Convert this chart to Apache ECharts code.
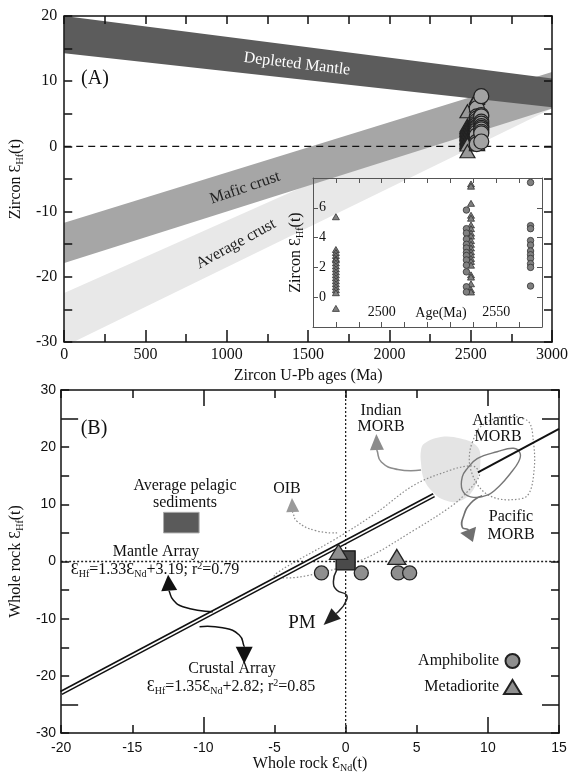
<!DOCTYPE html>
<html>
<head>
<meta charset="utf-8">
<script src="https://cdn.jsdelivr.net/npm/echarts@6/dist/echarts.min.js"></script>
<style>
html, body { margin: 0; padding: 0; background: #fff; }
#chart { width: 571px; height: 774px; }
</style>
</head>
<body>
<div id="chart"></div>
<script>
var SERIF = 'Liberation Serif'
var SANS = 'Liberation Sans'

// ---- panel A : zircon eHf(t) vs U-Pb age ----
// ages of the four zircon groups (Ma)
var triAgeA = 2480
var triAgeB = 2539
var circAgeA = 2537
var circAgeB = 2565
// eHf(t) values of each group
var triHfA = [5.4, 3.2, 3.0, 2.8, 2.6, 2.5, 2.3, 2.1, 1.9, 1.7, 1.5, 1.3, 1.1, 0.9, 0.7, 0.5, 0.3, -0.75]
var triHfB = [7.6, 7.45, 6.3, 5.5, 5.3, 4.85, 4.6, 4.3, 4.1, 3.8, 3.55, 3.3, 3.05, 2.85, 2.6, 2.4, 2.15, 1.5, 1.35, 0.9, 0.5, 0.35]
var circHfA = [5.85, 4.6, 4.3, 3.9, 3.55, 3.3, 3.0, 2.8, 2.5, 2.15, 1.7, 0.7, 0.35]
var circHfB = [7.7, 4.8, 4.6, 3.8, 3.5, 3.1, 2.85, 2.6, 2.25, 2.0, 0.75]

// evolution bands [age, eHf]
var depletedMantle = [[0, 20], [3000, 10.4], [3000, 6.0], [0, 14.3]]
var maficCrust = [[0, -11.7], [3000, 11.4], [3000, 5.8], [0, -17.9]]
var averageCrust = [[0, -22.5], [3000, 10.8], [3000, 5.8], [57, -30], [0, -30]]
var chur = [[0, 0], [3000, 0]]

// ---- panel B : whole rock eHf(t) vs eNd(t) ----
var amphNd = [-1.7, 1.1, 3.7, 4.5]
var amphHf = [-2, -2, -2, -2]
var metaNd = [-0.5, 3.6]
var metaHf = [1.7, 0.8]
var pmNd = [0]
var pmHf = [0.2]

var zeroNd = [[0, -30], [0, 30]]
var zeroHf = [[-20, 0], [15, 0]]
var arrayLine = [[-20, -23.0], [6.2, 11.6]]
var arrayLineUpper = [[9.3, 15.6], [15, 23.2]]
var pelagicBox = [[-12.8, 5.0], [-10.3, 8.6]]

var indianField = [[5.53, 20.66], [6.69, 21.8], [8.09, 21.5], [9.25, 20.1], [9.48, 17.7], [9.25, 14.25], [8.79, 11.9],
  [7.86, 10.46], [6.93, 10.75], [6.23, 11.9], [5.53, 14.25], [5.3, 17.2], [5.3, 19.5]]
var pacificField = [[8.56, 16.3], [9.25, 18.0], [10.65, 19.2], [11.8, 19.8], [12.27, 18.9], [12.16, 17.45], [11.58, 15.4],
  [10.88, 13.4], [9.95, 11.6], [8.79, 11.3], [8.2, 12.5], [8.2, 14.8]]
var atlanticField = [[8.9, 20.8], [9.5, 23.6], [11.0, 25.3], [12.8, 24.6], [13.2, 21.0], [13.25, 16.0], [12.8, 11.6],
  [11.6, 10.8], [10.3, 11.3], [9.4, 13.0], [8.8, 16.0], [8.7, 18.5]]
var oibField = [[-5.0, -2.6], [-4.34, -1.2], [-0.63, 4.06], [2.2, 8.6], [4.83, 13.4], [7.39, 16.0], [8.56, 16.7],
  [9.13, 16.5], [9.4, 15.0], [8.4, 11.8], [7.39, 9.6], [4.83, 5.5], [1.12, 0.26], [-3.07, -2.65]]

var indianArrow = { tail: [[5.3, 16.0], [3.67, 16.1], [2.51, 17.4], [2.2, 19.5]], tip: [2.16, 22.3] }
var pacificArrow = { tail: [[9.6, 11.5], [8.79, 10.2], [8.27, 7.8], [8.2, 6.0], [8.6, 5.6]], tip: [8.95, 3.4] }
var oibArrow = { tail: [[-0.6, 5.0], [-2.1, 5.4], [-3.4, 7.0], [-3.72, 8.6]], tip: [-3.77, 11.1] }
var mantleArrow = { tail: [[-9.34, -8.8], [-11.44, -7.9], [-12.13, -6.7], [-12.4, -5.2]], tip: [-12.48, -2.3] }
var crustalArrow = { tail: [[-10.27, -11.4], [-8.65, -11.6], [-7.48, -12.85], [-7.13, -14.9]], tip: [-7.13, -17.9] }
var pmArrow = { tail: [[-0.63, -1.5], [-0.86, -3.5], [-0.63, -5.0], [0.07, -5.9], [-0.05, -7.3], [-0.45, -8.6]], tip: [-1.55, -11.1] }

function pairs(xs, ys) {
  return xs.map(function (x, i) { return [x, ys[i]] })
}
function atAge(age, arr) {
  return arr.map(function (v) { return [age, v] })
}

// filled / outlined field drawn through the axis scales
function field(pts, xi, style, z, smooth) {
  return {
    type: 'custom', xAxisIndex: xi, yAxisIndex: xi, silent: true, z: z, clip: true,
    data: [pts[0]],
    renderItem: function (params, api) {
      return {
        type: 'polygon',
        shape: { points: pts.map(function (p) { return api.coord(p) }), smooth: smooth || 0 },
        style: style
      }
    }
  }
}

// curved arrow: tail polyline + filled head
function arrow(a, o) {
  return {
    type: 'custom', xAxisIndex: 4, yAxisIndex: 4, silent: true, z: 5,
    data: [a.tail[0]],
    renderItem: function (params, api) {
      var p = a.tail.map(function (d) { return api.coord(d) })
      var t = api.coord(a.tip)
      var last = p[p.length - 1]
      var dx = t[0] - last[0], dy = t[1] - last[1]
      var len = Math.sqrt(dx * dx + dy * dy)
      var ux = dx / len, uy = dy / len
      var bx = t[0] - ux * o.headLen, by = t[1] - uy * o.headLen
      var hw = o.headWidth / 2
      if (len > o.headLen) p.push([bx, by])
      return {
        type: 'group',
        children: [
          { type: 'polyline', shape: { points: p, smooth: 0.5 },
            style: { stroke: o.color, lineWidth: o.width, fill: null, lineDash: o.dash || null } },
          { type: 'polygon', shape: { points: [t, [bx - uy * hw, by + ux * hw], [bx + uy * hw, by - ux * hw]] },
            style: { fill: o.headColor || o.color } }
        ]
      }
    }
  }
}

var frame = { show: true, onZero: false, lineStyle: { color: '#111', width: 1.5 } }
var insetFrame = { show: true, onZero: false, lineStyle: { color: '#555', width: 1 } }
var noLine = { show: false, onZero: false }
var tk = function (len, color, w) {
  return { show: true, inside: true, length: len, lineStyle: { color: color || '#111', width: w || 1.5 } }
}
var longTk = function (len, vals) {
  return { show: true, inside: true, length: len, customValues: vals, lineStyle: { color: '#111', width: 1.5 } }
}
var noLabel = { show: false }
var noSplit = { show: false }
var plain = function (v) { return String(v) }

var hfRich = function (size) {
  return {
    t: { fontFamily: SERIF, fontSize: size, color: '#111', lineHeight: size + 2 },
    e: { fontFamily: SERIF, fontSize: size, color: '#111', lineHeight: size + 2 },
    s: { fontFamily: SERIF, fontSize: size - 6, color: '#111', lineHeight: size - 4, verticalAlign: 'bottom' }
  }
}

var everyTen = function (v) { return v % 10 === 0 ? String(v) : '' }

var option = {
  animation: false,
  backgroundColor: '#fff',
  grid: [
    { left: 57, top: 16, width: 502, height: 326 },
    { left: 313, top: 178, width: 229, height: 149 },
    { left: 57, top: 390, width: 502, height: 343 }
  ],
  legend: {
    data: ['Amphibolite', 'Metadiorite'],
    orient: 'vertical', align: 'right', right: 44, top: 648,
    itemWidth: 17, itemHeight: 14, itemGap: 10, selectedMode: false,
    textStyle: { fontFamily: SERIF, fontSize: 16, color: '#111' }
  },
  xAxis: [
    { gridIndex: 0, type: 'value', min: 0, max: 3000, interval: 500, position: 'bottom', z: 10,
      axisLine: frame, axisTick: tk(12), minorTick: { show: true, splitNumber: 2, length: 8, lineStyle: { color: '#111', width: 1.5 } },
      splitLine: noSplit, minorSplitLine: noSplit,
      axisLabel: { fontFamily: SERIF, fontSize: 16, color: '#111', margin: 5, formatter: plain },
      name: 'Zircon U-Pb ages (Ma)', nameLocation: 'middle', nameGap: 26,
      nameTextStyle: { fontFamily: SERIF, fontSize: 16, color: '#111' } },
    { gridIndex: 0, type: 'value', min: 0, max: 3000, interval: 250, position: 'top', z: 10,
      axisLine: frame, axisTick: tk(8), axisLabel: noLabel, splitLine: noSplit },
    { gridIndex: 1, type: 'value', min: 2470, max: 2570, interval: 10, position: 'bottom', z: 10,
      axisLine: insetFrame, axisTick: tk(5, '#555', 1), splitLine: noSplit,
      axisLabel: { inside: true, margin: 8, fontFamily: SERIF, fontSize: 14, color: '#111',
        formatter: function (v) { return (v === 2500 || v === 2550) ? String(v) : '' } } },
    { gridIndex: 1, type: 'value', min: 2470, max: 2570, interval: 10, position: 'top', z: 10,
      axisLine: insetFrame, axisTick: tk(5, '#555', 1), axisLabel: noLabel, splitLine: noSplit },
    { gridIndex: 2, type: 'value', min: -20, max: 15, interval: 5, position: 'bottom', z: 10,
      axisLine: frame, axisTick: tk(8), splitLine: noSplit,
      axisLabel: { fontFamily: SANS, fontSize: 14, color: '#111', margin: 8, formatter: plain },
      name: '{t|Whole rock }{e|Ɛ}{s|Nd}{t|(t)}', nameLocation: 'middle', nameGap: 20,
      nameTextStyle: { rich: hfRich(16) } },
    { gridIndex: 2, type: 'value', min: -20, max: 15, interval: 5, position: 'top', z: 10,
      axisLine: frame, axisTick: tk(8), axisLabel: noLabel, splitLine: noSplit },
    { gridIndex: 2, type: 'value', min: -20, max: 15, position: 'bottom', z: 10,
      axisLine: noLine, axisTick: longTk(16, [-10, 10]), axisLabel: noLabel, splitLine: noSplit },
    { gridIndex: 2, type: 'value', min: -20, max: 15, position: 'top', z: 10,
      axisLine: noLine, axisTick: longTk(16, [-10, 10]), axisLabel: noLabel, splitLine: noSplit }
  ],
  yAxis: [
    { gridIndex: 0, type: 'value', min: -30, max: 20, interval: 5, position: 'left', z: 10,
      axisLine: frame, axisTick: tk(8), splitLine: noSplit,
      axisLabel: { fontFamily: SERIF, fontSize: 16, color: '#111', margin: 7, formatter: everyTen },
      name: '{t|Zircon }{e|Ɛ}{s|Hf}{t|(t)}', nameLocation: 'middle', nameGap: 30, nameRotate: 90,
      nameTextStyle: { rich: hfRich(16) } },
    { gridIndex: 0, type: 'value', min: -30, max: 20, interval: 5, position: 'right', z: 10,
      axisLine: frame, axisTick: tk(8), axisLabel: noLabel, splitLine: noSplit },
    { gridIndex: 1, type: 'value', min: -2, max: 8, interval: 2, position: 'left', z: 10,
      axisLine: insetFrame, axisTick: tk(5, '#555', 1), splitLine: noSplit,
      axisLabel: { inside: true, margin: 6, fontFamily: SERIF, fontSize: 14, color: '#111',
        formatter: function (v) { return (v >= 0 && v <= 6) ? String(v) : '' } },
      name: '{t|Zircon }{e|Ɛ}{s|Hf}{t|(t)}', nameLocation: 'middle', nameGap: 8, nameRotate: 90,
      nameTextStyle: { rich: hfRich(16) } },
    { gridIndex: 1, type: 'value', min: -2, max: 8, interval: 2, position: 'right', z: 10,
      axisLine: insetFrame, axisTick: tk(5, '#555', 1), axisLabel: noLabel, splitLine: noSplit },
    { gridIndex: 2, type: 'value', min: -30, max: 30, interval: 5, position: 'left', z: 10,
      axisLine: frame, axisTick: tk(8), splitLine: noSplit,
      axisLabel: { fontFamily: SANS, fontSize: 14, color: '#111', margin: 5, formatter: everyTen },
      name: '{t|Whole rock }{e|Ɛ}{s|Hf}{t|(t)}', nameLocation: 'middle', nameGap: 34, nameRotate: 90,
      nameTextStyle: { rich: hfRich(16) } },
    { gridIndex: 2, type: 'value', min: -30, max: 30, interval: 5, position: 'right', z: 10,
      axisLine: frame, axisTick: tk(8), axisLabel: noLabel, splitLine: noSplit },
    { gridIndex: 2, type: 'value', min: -30, max: 30, position: 'left', z: 10,
      axisLine: noLine, axisTick: longTk(17, [-25, 25]), axisLabel: noLabel, splitLine: noSplit },
    { gridIndex: 2, type: 'value', min: -30, max: 30, position: 'right', z: 10,
      axisLine: noLine, axisTick: longTk(17, [-25, 25]), axisLabel: noLabel, splitLine: noSplit }
  ],
  series: [
    // panel A bands
    field(averageCrust, 0, { fill: '#e8e8e8' }, 1),
    field(maficCrust, 0, { fill: '#a6a6a6' }, 1),
    field(depletedMantle, 0, { fill: '#5c5c5c' }, 1),
    { type: 'line', xAxisIndex: 0, yAxisIndex: 0, data: chur, symbol: 'none', silent: true, z: 3,
      lineStyle: { color: '#111', width: 1.4, type: [7, 5] } },
    { name: 'zircon-tri', type: 'scatter', xAxisIndex: 0, yAxisIndex: 0, symbol: 'triangle', symbolSize: [15, 13], z: 6,
      data: atAge(triAgeA, triHfA).concat(atAge(triAgeB, triHfB)),
      itemStyle: { color: '#999', borderColor: '#222', borderWidth: 1.2, opacity: 1 } },
    { name: 'zircon-circ', type: 'scatter', xAxisIndex: 0, yAxisIndex: 0, symbol: 'circle', symbolSize: 15, z: 6,
      data: atAge(circAgeA, circHfA).concat(atAge(circAgeB, circHfB)),
      itemStyle: { color: '#a3a3a3', borderColor: '#222', borderWidth: 1.2, opacity: 1 } },
    // inset
    { name: 'inset-tri', type: 'scatter', xAxisIndex: 2, yAxisIndex: 2, symbol: 'triangle', symbolSize: [7, 6], z: 6,
      data: atAge(triAgeA, triHfA).concat(atAge(triAgeB, triHfB)),
      itemStyle: { color: '#808080', borderColor: '#333', borderWidth: 0.8, opacity: 1 } },
    { name: 'inset-circ', type: 'scatter', xAxisIndex: 2, yAxisIndex: 2, symbol: 'circle', symbolSize: 6.5, z: 6,
      data: atAge(circAgeA, circHfA).concat(atAge(circAgeB, circHfB)),
      itemStyle: { color: '#808080', borderColor: '#333', borderWidth: 0.8, opacity: 1 } },
    // panel B fields
    field(indianField, 4, { fill: '#e4e4e4' }, 1, 0.4),
    field(oibField, 4, { fill: null, stroke: '#8a8a8a', lineWidth: 1.2, lineDash: [1.5, 2] }, 2, 0.35),
    field(atlanticField, 4, { fill: null, stroke: '#8a8a8a', lineWidth: 1.2, lineDash: [1.5, 2] }, 2, 0.35),
    field(pacificField, 4, { fill: null, stroke: '#777', lineWidth: 1.4 }, 2, 0.4),
    { type: 'line', xAxisIndex: 4, yAxisIndex: 4, data: zeroNd, symbol: 'none', silent: true, z: 3,
      lineStyle: { color: '#222', width: 1.3, type: [2, 2] } },
    { type: 'line', xAxisIndex: 4, yAxisIndex: 4, data: zeroHf, symbol: 'none', silent: true, z: 3,
      lineStyle: { color: '#222', width: 1.3, type: [2, 2] } },
    { type: 'line', xAxisIndex: 4, yAxisIndex: 4, data: arrayLine, symbol: 'none', silent: true, z: 3,
      lineStyle: { color: '#111', width: 4.8 } },
    { type: 'line', xAxisIndex: 4, yAxisIndex: 4, data: arrayLine, symbol: 'none', silent: true, z: 3,
      lineStyle: { color: '#fff', width: 1.6 } },
    { type: 'line', xAxisIndex: 4, yAxisIndex: 4, data: arrayLineUpper, symbol: 'none', silent: true, z: 3,
      lineStyle: { color: '#111', width: 2 } },
    field([pelagicBox[0], [pelagicBox[1][0], pelagicBox[0][1]], pelagicBox[1], [pelagicBox[0][0], pelagicBox[1][1]]], 4,
      { fill: '#5a5a5a', stroke: '#aaa', lineWidth: 1 }, 3),
    arrow(indianArrow, { color: '#8c8c8c', width: 1.6, headLen: 16, headWidth: 14 }),
    arrow(pacificArrow, { color: '#6f6f6f', width: 1.6, headLen: 13, headWidth: 17 }),
    arrow(oibArrow, { color: '#8c8c8c', headColor: '#9a9a9a', width: 1.3, dash: [1.5, 2], headLen: 14, headWidth: 13 }),
    arrow(mantleArrow, { color: '#111', width: 1.5, headLen: 16, headWidth: 16 }),
    arrow(crustalArrow, { color: '#111', width: 1.5, headLen: 17, headWidth: 17 }),
    arrow(pmArrow, { color: '#222', width: 1.5, headLen: 17, headWidth: 14 }),
    { name: 'PM', type: 'scatter', xAxisIndex: 4, yAxisIndex: 4, symbol: 'rect', symbolSize: 19, z: 6,
      data: pairs(pmNd, pmHf), itemStyle: { color: '#4a4a4a', borderColor: '#111', borderWidth: 1.3, opacity: 1 } },
    { name: 'Amphibolite', type: 'scatter', xAxisIndex: 4, yAxisIndex: 4, symbol: 'circle', symbolSize: 14, z: 7,
      data: pairs(amphNd, amphHf), itemStyle: { color: '#8f8f8f', borderColor: '#222', borderWidth: 1.3, opacity: 1 } },
    { name: 'Metadiorite', type: 'scatter', xAxisIndex: 4, yAxisIndex: 4, symbol: 'triangle', symbolSize: [18, 15], z: 7,
      data: pairs(metaNd, metaHf), itemStyle: { color: '#8f8f8f', borderColor: '#222', borderWidth: 1.3, opacity: 1 } }
  ],
  graphic: []
}

function label(text, x, y, size, extra) {
  var el = {
    type: 'text', x: x, y: y, z: 20, silent: true,
    style: { text: text, font: size + 'px "' + SERIF + '"', fill: '#111', align: 'center', verticalAlign: 'middle' }
  }
  if (extra) {
    for (var k in extra) {
      if (k === 'style') Object.assign(el.style, extra.style)
      else el[k] = extra[k]
    }
  }
  return el
}

var eqRich = {
  n: { fontFamily: SERIF, fontSize: 16, fill: '#111', lineHeight: 18 },
  s: { fontFamily: SERIF, fontSize: 10, fill: '#111', lineHeight: 12, verticalAlign: 'bottom' },
  p: { fontFamily: SERIF, fontSize: 10, fill: '#111', lineHeight: 12, verticalAlign: 'top' }
}

option.graphic = [
  label('(A)', 95, 79, 20),
  label('Depleted Mantle', 297, 64, 16, { rotation: -0.12, style: { fill: '#fff' } }),
  label('Mafic crust', 245, 188, 16, { rotation: 0.33, style: { fill: '#222' } }),
  label('Average crust', 236, 244, 16, { rotation: 0.5, style: { fill: '#222' } }),
  label('Age(Ma)', 441, 313, 14),
  label('(B)', 94, 429, 20),
  label('Average pelagic', 185, 486, 16),
  label('sediments', 185, 503, 16),
  label('Indian', 381, 411, 16),
  label('MORB', 381, 427, 16),
  label('Atlantic', 498, 421, 16),
  label('MORB', 498, 437, 16),
  label('Pacific', 511, 517, 16),
  label('MORB', 511, 535, 16),
  label('OIB', 287, 489, 16),
  label('Mantle Array', 156, 552, 16),
  label('{n|Ɛ}{s|Hf}{n|=1.33Ɛ}{s|Nd}{n|+3.19; r}{p|2}{n|=0.79}', 155, 570, 16, { style: { rich: eqRich } }),
  label('Crustal Array', 232, 669, 16),
  label('{n|Ɛ}{s|Hf}{n|=1.35Ɛ}{s|Nd}{n|+2.82; r}{p|2}{n|=0.85}', 231, 687, 16, { style: { rich: eqRich } }),
  label('PM', 302, 623, 19)
]

var chart = echarts.init(document.getElementById('chart'))
chart.setOption(option)
</script>
</body>
</html>
